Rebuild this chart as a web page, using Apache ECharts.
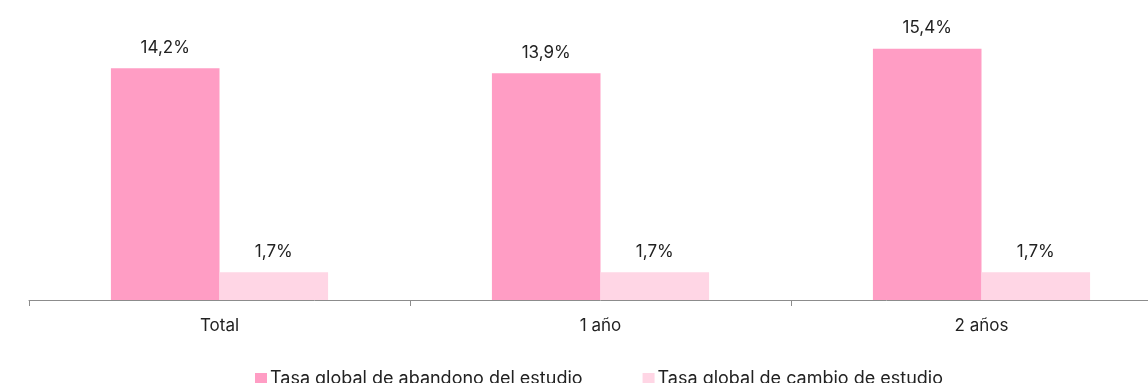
<!DOCTYPE html>
<html><head><meta charset="utf-8">
<style>html,body{margin:0;padding:0;background:#fff;overflow:hidden;width:1148px;height:383px}#c{width:1172px;height:383px}</style>
<script src="https://cdn.jsdelivr.net/npm/echarts@6/dist/echarts.min.js"></script>
</head><body><div id="c"></div>
<script>
const categories = ['Total', '1 año', '2 años'];
const abandono = [14.2, 13.9, 15.4];
const cambio = [1.7, 1.7, 1.7];
const seriesNames = ['Tasa global de abandono del estudio', 'Tasa global de cambio de estudio'];
const FONT = 'Inter, "Noto Sans", sans-serif';
const fmt = p => p.value.toFixed(1).replace('.', ',') + '%';
const chart = echarts.init(document.getElementById('c'));
chart.setOption({
  animation: false,
  textStyle: { fontFamily: FONT },
  grid: { left: 29, right: 0, top: 39, bottom: 83 },
  legend: {
    left: 250, top: 365, itemWidth: 12, itemHeight: 12, itemGap: 60,
    icon: 'rect',
    textStyle: { fontFamily: FONT, fontSize: 18, color: '#222', padding: [0,0,0,-2] },
    data: seriesNames
  },
  xAxis: {
    type: 'category', data: categories,
    axisLine: { lineStyle: { color: '#8c8c8c', width: 1 } },
    axisTick: { show: true, length: 6, lineStyle: { color: '#8c8c8c' } },
    axisLabel: { fontFamily: FONT, fontSize: 17, color: '#222', margin: 17 }
  },
  yAxis: { type: 'value', min: 0, max: 16, show: false, splitLine: { show: false } },
  series: [
    { name: seriesNames[0], type: 'bar', data: abandono, barGap: '0%', barCategoryGap: '43%',
      itemStyle: { color: '#FF9DC4' },
      label: { show: true, position: 'top', distance: 12, formatter: fmt, fontFamily: FONT, fontSize: 17, color: '#222' } },
    { name: seriesNames[1], type: 'bar', data: cambio,
      itemStyle: { color: '#FFD6E5' },
      label: { show: true, position: 'top', distance: 12, formatter: fmt, fontFamily: FONT, fontSize: 17, color: '#222' } }
  ]
});
</script></body></html>
